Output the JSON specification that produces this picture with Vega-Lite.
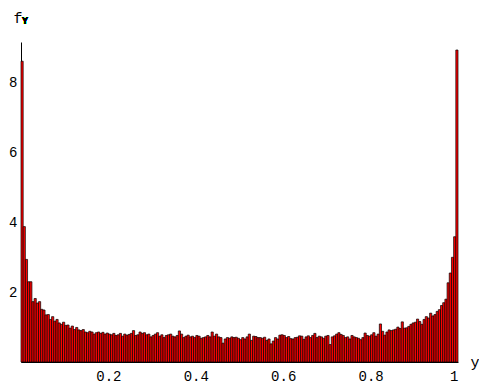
{
  "$schema": "https://vega.github.io/schema/vega-lite/v6.json",
  "width": 437,
  "height": 320,
  "autosize": {"type": "none"},
  "padding": {"left": 21, "top": 42, "right": 21, "bottom": 23},
  "background": "white",
  "config": {
    "view": {"stroke": null},
    "font": "Liberation Mono",
    "axis": {
      "domainColor": "black",
      "domainWidth": 1,
      "grid": false,
      "ticks": false,
      "tickSize": 0,
      "labelFont": "Liberation Mono",
      "labelFontSize": 14,
      "labelColor": "black",
      "titleFont": "Liberation Mono",
      "titleFontWeight": "normal",
      "titleColor": "black"
    }
  },
  "data": {
    "values": [
      {"x0": 0.000, "x1": 0.005, "f": 8.62}, {"x0": 0.005, "x1": 0.010, "f": 3.88}, {"x0": 0.010, "x1": 0.015, "f": 2.94}, {"x0": 0.015, "x1": 0.020, "f": 2.30}, {"x0": 0.020, "x1": 0.025, "f": 2.30},
      {"x0": 0.025, "x1": 0.030, "f": 1.73}, {"x0": 0.030, "x1": 0.035, "f": 1.82}, {"x0": 0.035, "x1": 0.040, "f": 1.69}, {"x0": 0.040, "x1": 0.045, "f": 1.73}, {"x0": 0.045, "x1": 0.050, "f": 1.51},
      {"x0": 0.050, "x1": 0.055, "f": 1.49}, {"x0": 0.055, "x1": 0.060, "f": 1.35}, {"x0": 0.060, "x1": 0.065, "f": 1.36}, {"x0": 0.065, "x1": 0.070, "f": 1.22}, {"x0": 0.070, "x1": 0.075, "f": 1.30},
      {"x0": 0.075, "x1": 0.080, "f": 1.17}, {"x0": 0.080, "x1": 0.085, "f": 1.22}, {"x0": 0.085, "x1": 0.090, "f": 1.12}, {"x0": 0.090, "x1": 0.095, "f": 1.08}, {"x0": 0.095, "x1": 0.100, "f": 1.14},
      {"x0": 0.100, "x1": 0.105, "f": 1.05}, {"x0": 0.105, "x1": 0.110, "f": 1.06}, {"x0": 0.110, "x1": 0.115, "f": 0.97}, {"x0": 0.115, "x1": 0.120, "f": 1.03}, {"x0": 0.120, "x1": 0.125, "f": 0.93},
      {"x0": 0.125, "x1": 0.130, "f": 0.99}, {"x0": 0.130, "x1": 0.135, "f": 0.92}, {"x0": 0.135, "x1": 0.140, "f": 0.90}, {"x0": 0.140, "x1": 0.145, "f": 0.93}, {"x0": 0.145, "x1": 0.150, "f": 0.86},
      {"x0": 0.150, "x1": 0.155, "f": 0.84}, {"x0": 0.155, "x1": 0.160, "f": 0.88}, {"x0": 0.160, "x1": 0.165, "f": 0.86}, {"x0": 0.165, "x1": 0.170, "f": 0.80}, {"x0": 0.170, "x1": 0.175, "f": 0.84},
      {"x0": 0.175, "x1": 0.180, "f": 0.86}, {"x0": 0.180, "x1": 0.185, "f": 0.82}, {"x0": 0.185, "x1": 0.190, "f": 0.85}, {"x0": 0.190, "x1": 0.195, "f": 0.80}, {"x0": 0.195, "x1": 0.200, "f": 0.83},
      {"x0": 0.200, "x1": 0.205, "f": 0.80}, {"x0": 0.205, "x1": 0.210, "f": 0.78}, {"x0": 0.210, "x1": 0.215, "f": 0.82}, {"x0": 0.215, "x1": 0.220, "f": 0.76}, {"x0": 0.220, "x1": 0.225, "f": 0.78},
      {"x0": 0.225, "x1": 0.230, "f": 0.82}, {"x0": 0.230, "x1": 0.235, "f": 0.74}, {"x0": 0.235, "x1": 0.240, "f": 0.80}, {"x0": 0.240, "x1": 0.245, "f": 0.77}, {"x0": 0.245, "x1": 0.250, "f": 0.79},
      {"x0": 0.250, "x1": 0.255, "f": 0.82}, {"x0": 0.255, "x1": 0.260, "f": 0.90}, {"x0": 0.260, "x1": 0.265, "f": 0.76}, {"x0": 0.265, "x1": 0.270, "f": 0.78}, {"x0": 0.270, "x1": 0.275, "f": 0.86},
      {"x0": 0.275, "x1": 0.280, "f": 0.82}, {"x0": 0.280, "x1": 0.285, "f": 0.84}, {"x0": 0.285, "x1": 0.290, "f": 0.78}, {"x0": 0.290, "x1": 0.295, "f": 0.80}, {"x0": 0.295, "x1": 0.300, "f": 0.72},
      {"x0": 0.300, "x1": 0.305, "f": 0.76}, {"x0": 0.305, "x1": 0.310, "f": 0.80}, {"x0": 0.310, "x1": 0.315, "f": 0.84}, {"x0": 0.315, "x1": 0.320, "f": 0.74}, {"x0": 0.320, "x1": 0.325, "f": 0.78},
      {"x0": 0.325, "x1": 0.330, "f": 0.70}, {"x0": 0.330, "x1": 0.335, "f": 0.76}, {"x0": 0.335, "x1": 0.340, "f": 0.78}, {"x0": 0.340, "x1": 0.345, "f": 0.80}, {"x0": 0.345, "x1": 0.350, "f": 0.74},
      {"x0": 0.350, "x1": 0.355, "f": 0.72}, {"x0": 0.355, "x1": 0.360, "f": 0.76}, {"x0": 0.360, "x1": 0.365, "f": 0.89}, {"x0": 0.365, "x1": 0.370, "f": 0.80}, {"x0": 0.370, "x1": 0.375, "f": 0.70},
      {"x0": 0.375, "x1": 0.380, "f": 0.74}, {"x0": 0.380, "x1": 0.385, "f": 0.77}, {"x0": 0.385, "x1": 0.390, "f": 0.72}, {"x0": 0.390, "x1": 0.395, "f": 0.74}, {"x0": 0.395, "x1": 0.400, "f": 0.70},
      {"x0": 0.400, "x1": 0.405, "f": 0.76}, {"x0": 0.405, "x1": 0.410, "f": 0.74}, {"x0": 0.410, "x1": 0.415, "f": 0.68}, {"x0": 0.415, "x1": 0.420, "f": 0.70}, {"x0": 0.420, "x1": 0.425, "f": 0.72},
      {"x0": 0.425, "x1": 0.430, "f": 0.76}, {"x0": 0.430, "x1": 0.435, "f": 0.72}, {"x0": 0.435, "x1": 0.440, "f": 0.86}, {"x0": 0.440, "x1": 0.445, "f": 0.74}, {"x0": 0.445, "x1": 0.450, "f": 0.80},
      {"x0": 0.450, "x1": 0.455, "f": 0.72}, {"x0": 0.455, "x1": 0.460, "f": 0.70}, {"x0": 0.460, "x1": 0.465, "f": 0.54}, {"x0": 0.465, "x1": 0.470, "f": 0.66}, {"x0": 0.470, "x1": 0.475, "f": 0.70},
      {"x0": 0.475, "x1": 0.480, "f": 0.68}, {"x0": 0.480, "x1": 0.485, "f": 0.72}, {"x0": 0.485, "x1": 0.490, "f": 0.70}, {"x0": 0.490, "x1": 0.495, "f": 0.71}, {"x0": 0.495, "x1": 0.500, "f": 0.68},
      {"x0": 0.500, "x1": 0.505, "f": 0.64}, {"x0": 0.505, "x1": 0.510, "f": 0.70}, {"x0": 0.510, "x1": 0.515, "f": 0.66}, {"x0": 0.515, "x1": 0.520, "f": 0.72}, {"x0": 0.520, "x1": 0.525, "f": 0.80},
      {"x0": 0.525, "x1": 0.530, "f": 0.62}, {"x0": 0.530, "x1": 0.535, "f": 0.74}, {"x0": 0.535, "x1": 0.540, "f": 0.73}, {"x0": 0.540, "x1": 0.545, "f": 0.70}, {"x0": 0.545, "x1": 0.550, "f": 0.70},
      {"x0": 0.550, "x1": 0.555, "f": 0.68}, {"x0": 0.555, "x1": 0.560, "f": 0.71}, {"x0": 0.560, "x1": 0.565, "f": 0.62}, {"x0": 0.565, "x1": 0.570, "f": 0.66}, {"x0": 0.570, "x1": 0.575, "f": 0.52},
      {"x0": 0.575, "x1": 0.580, "f": 0.60}, {"x0": 0.580, "x1": 0.585, "f": 0.70}, {"x0": 0.585, "x1": 0.590, "f": 0.66}, {"x0": 0.590, "x1": 0.595, "f": 0.77}, {"x0": 0.595, "x1": 0.600, "f": 0.78},
      {"x0": 0.600, "x1": 0.605, "f": 0.76}, {"x0": 0.605, "x1": 0.610, "f": 0.70}, {"x0": 0.610, "x1": 0.615, "f": 0.73}, {"x0": 0.615, "x1": 0.620, "f": 0.67}, {"x0": 0.620, "x1": 0.625, "f": 0.66},
      {"x0": 0.625, "x1": 0.630, "f": 0.70}, {"x0": 0.630, "x1": 0.635, "f": 0.71}, {"x0": 0.635, "x1": 0.640, "f": 0.75}, {"x0": 0.640, "x1": 0.645, "f": 0.74}, {"x0": 0.645, "x1": 0.650, "f": 0.65},
      {"x0": 0.650, "x1": 0.655, "f": 0.72}, {"x0": 0.655, "x1": 0.660, "f": 0.75}, {"x0": 0.660, "x1": 0.665, "f": 0.70}, {"x0": 0.665, "x1": 0.670, "f": 0.76}, {"x0": 0.670, "x1": 0.675, "f": 0.82},
      {"x0": 0.675, "x1": 0.680, "f": 0.70}, {"x0": 0.680, "x1": 0.685, "f": 0.74}, {"x0": 0.685, "x1": 0.690, "f": 0.72}, {"x0": 0.690, "x1": 0.695, "f": 0.68}, {"x0": 0.695, "x1": 0.700, "f": 0.74},
      {"x0": 0.700, "x1": 0.705, "f": 0.76}, {"x0": 0.705, "x1": 0.710, "f": 0.50}, {"x0": 0.710, "x1": 0.715, "f": 0.72}, {"x0": 0.715, "x1": 0.720, "f": 0.75}, {"x0": 0.720, "x1": 0.725, "f": 0.80},
      {"x0": 0.725, "x1": 0.730, "f": 0.84}, {"x0": 0.730, "x1": 0.735, "f": 0.79}, {"x0": 0.735, "x1": 0.740, "f": 0.76}, {"x0": 0.740, "x1": 0.745, "f": 0.70}, {"x0": 0.745, "x1": 0.750, "f": 0.72},
      {"x0": 0.750, "x1": 0.755, "f": 0.66}, {"x0": 0.755, "x1": 0.760, "f": 0.76}, {"x0": 0.760, "x1": 0.765, "f": 0.72}, {"x0": 0.765, "x1": 0.770, "f": 0.70}, {"x0": 0.770, "x1": 0.775, "f": 0.68},
      {"x0": 0.775, "x1": 0.780, "f": 0.64}, {"x0": 0.780, "x1": 0.785, "f": 0.70}, {"x0": 0.785, "x1": 0.790, "f": 0.83}, {"x0": 0.790, "x1": 0.795, "f": 0.76}, {"x0": 0.795, "x1": 0.800, "f": 0.74},
      {"x0": 0.800, "x1": 0.805, "f": 0.78}, {"x0": 0.805, "x1": 0.810, "f": 0.84}, {"x0": 0.810, "x1": 0.815, "f": 0.74}, {"x0": 0.815, "x1": 0.820, "f": 0.80}, {"x0": 0.820, "x1": 0.825, "f": 1.09},
      {"x0": 0.825, "x1": 0.830, "f": 0.88}, {"x0": 0.830, "x1": 0.835, "f": 0.77}, {"x0": 0.835, "x1": 0.840, "f": 0.86}, {"x0": 0.840, "x1": 0.845, "f": 0.92}, {"x0": 0.845, "x1": 0.850, "f": 0.90},
      {"x0": 0.850, "x1": 0.855, "f": 0.92}, {"x0": 0.855, "x1": 0.860, "f": 0.94}, {"x0": 0.860, "x1": 0.865, "f": 1.00}, {"x0": 0.865, "x1": 0.870, "f": 0.96}, {"x0": 0.870, "x1": 0.875, "f": 1.15},
      {"x0": 0.875, "x1": 0.880, "f": 0.97}, {"x0": 0.880, "x1": 0.885, "f": 0.98}, {"x0": 0.885, "x1": 0.890, "f": 1.02}, {"x0": 0.890, "x1": 0.895, "f": 1.08}, {"x0": 0.895, "x1": 0.900, "f": 1.12},
      {"x0": 0.900, "x1": 0.905, "f": 1.14}, {"x0": 0.905, "x1": 0.910, "f": 1.23}, {"x0": 0.910, "x1": 0.915, "f": 1.16}, {"x0": 0.915, "x1": 0.920, "f": 1.08}, {"x0": 0.920, "x1": 0.925, "f": 1.22},
      {"x0": 0.925, "x1": 0.930, "f": 1.30}, {"x0": 0.930, "x1": 0.935, "f": 1.26}, {"x0": 0.935, "x1": 0.940, "f": 1.40}, {"x0": 0.940, "x1": 0.945, "f": 1.32}, {"x0": 0.945, "x1": 0.950, "f": 1.36},
      {"x0": 0.950, "x1": 0.955, "f": 1.45}, {"x0": 0.955, "x1": 0.960, "f": 1.50}, {"x0": 0.960, "x1": 0.965, "f": 1.62}, {"x0": 0.965, "x1": 0.970, "f": 1.70}, {"x0": 0.970, "x1": 0.975, "f": 1.80},
      {"x0": 0.975, "x1": 0.980, "f": 2.27}, {"x0": 0.980, "x1": 0.985, "f": 2.55}, {"x0": 0.985, "x1": 0.990, "f": 3.00}, {"x0": 0.990, "x1": 0.995, "f": 3.59}, {"x0": 0.995, "x1": 1.000, "f": 8.94}
    ]
  },
  "layer": [
    {
      "mark": {"type": "bar", "fill": "#ff0000", "stroke": "black", "strokeWidth": 0.7, "clip": false},
      "encoding": {
        "x": {
          "field": "x0",
          "type": "quantitative",
          "scale": {"domain": [0, 1], "nice": false, "zero": false},
          "axis": {
            "values": [0.2, 0.4, 0.6, 0.8, 1],
            "format": "~g",
            "labelPadding": 7,
            "labelBaseline": "top",
            "title": "y",
            "titleFontSize": 15,
            "titleX": 449,
            "titleY": 4,
            "titleAlign": "left",
            "titleBaseline": "alphabetic",
            "titleAngle": 0
          }
        },
        "x2": {"field": "x1"},
        "y": {
          "field": "f",
          "type": "quantitative",
          "scale": {"domain": [0, 9.17], "nice": false},
          "axis": {
            "values": [2, 4, 6, 8],
            "format": "d",
            "labelPadding": 4,
            "title": "f",
            "titleFontSize": 15,
            "titleAngle": 0,
            "titleX": -8,
            "titleY": -20,
            "titleAlign": "left",
            "titleBaseline": "alphabetic"
          }
        },
        "y2": {"datum": 0}
      }
    },
    {
      "mark": {"type": "text", "font": "Liberation Mono", "fontSize": 10, "align": "left", "baseline": "alphabetic", "dx": 1, "color": "black", "clip": false},
      "encoding": {
        "x": {"datum": 0, "type": "quantitative"},
        "y": {"datum": 9.68, "type": "quantitative"},
        "text": {"value": "Y"}
      }
    }
  ]
}
